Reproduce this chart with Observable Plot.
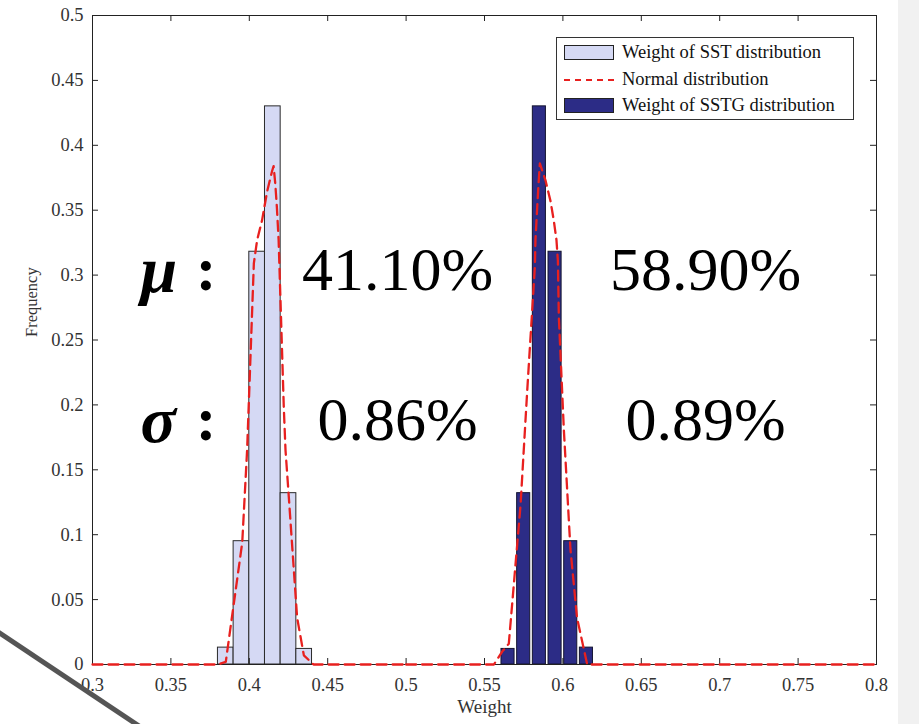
<!DOCTYPE html>
<html><head><meta charset="utf-8">
<script src="https://cdn.jsdelivr.net/npm/d3@7"></script>
<script src="https://cdn.jsdelivr.net/npm/@observablehq/plot@0.6"></script>
<style>
body{margin:0;background:#fff;}
#wrap{position:relative;width:919px;height:724px;overflow:hidden;font-family:"Liberation Serif","Times New Roman",serif;background:#fff;}
#side{position:absolute;left:898px;top:0;width:21px;height:724px;background:#f1f1f1;}
#legend{position:absolute;left:556px;top:37px;width:298px;height:83px;border:1px solid #333;background:#fff;box-sizing:border-box;font-size:18.5px;color:#111;}
.row{position:absolute;left:0;height:26px;width:100%;}
.sw{position:absolute;left:7px;top:5px;width:50px;height:15px;box-sizing:border-box;border:1px solid #222;}
.ln{position:absolute;left:7px;top:12px;width:50px;height:0;border-top:2px dashed #e8201f;}
.lt{position:absolute;left:65px;top:1px;white-space:nowrap;line-height:22px;}
#deco{position:absolute;left:0;top:0;pointer-events:none;}
</style>
</head><body>
<div id="wrap"><div id="side"></div><div id="chart"></div>
<div id="legend"></div>
<svg id="deco" width="919" height="724"><line x1="-2" y1="632" x2="142" y2="728" stroke="#555" stroke-width="5"/></svg>
</div>
<script>
// ---- data ----
const sstBinStart = [0.38, 0.39, 0.40, 0.41, 0.42, 0.43];
const sstFreq     = [0.013, 0.095, 0.318, 0.430, 0.132, 0.012];
const sstgBinStart = [0.56, 0.57, 0.58, 0.59, 0.60, 0.61];
const sstgFreq     = [0.012, 0.132, 0.430, 0.318, 0.095, 0.013];
const binWidth = 0.01;

const sstNormX = [0.30, 0.38, 0.385, 0.3955, 0.3986, 0.4029, 0.405, 0.4081, 0.4113, 0.4145, 0.4155, 0.4166, 0.4176, 0.4187, 0.422, 0.4231, 0.4252, 0.4305, 0.4348, 0.441, 0.50];
const sstNormY = [0, 0, 0.002, 0.094, 0.165, 0.309, 0.327, 0.342, 0.364, 0.380, 0.384, 0.370, 0.352, 0.327, 0.198, 0.165, 0.129, 0.036, 0.007, 0, 0];
const sstgNormX = [0.50, 0.556, 0.5613, 0.5655, 0.573, 0.5772, 0.5821, 0.5825, 0.5836, 0.5846, 0.5853, 0.5889, 0.5921, 0.5942, 0.5959, 0.5968, 0.5974, 0.6006, 0.6048, 0.609, 0.6155, 0.80];
const sstgNormY = [0, 0, 0.010, 0.016, 0.123, 0.210, 0.306, 0.327, 0.352, 0.373, 0.386, 0.373, 0.357, 0.342, 0.327, 0.311, 0.268, 0.181, 0.089, 0.036, 0, 0];

const xTicks = [0.3, 0.35, 0.4, 0.45, 0.5, 0.55, 0.6, 0.65, 0.7, 0.75, 0.8];
const xTickLabels = ["0.3","0.35","0.4","0.45","0.5","0.55","0.6","0.65","0.7","0.75","0.8"];
const yTicks = [0, 0.05, 0.1, 0.15, 0.2, 0.25, 0.3, 0.35, 0.4, 0.45, 0.5];
const yTickLabels = ["0","0.05","0.1","0.15","0.2","0.25","0.3","0.35","0.4","0.45","0.5"];

const statSymbols = ["\u03BC", "\u03C3"];
const meanLabels = ["41.10%", "58.90%"];
const sdLabels = ["0.86%", "0.89%"];
const legendLabels = ["Weight of SST distribution", "Normal distribution", "Weight of SSTG distribution"];
const xLabel = "Weight", yLabel = "Frequency";

// annotation anchors (data coordinates)
const statX = 0.3306, colonX = 0.3725, colX = [0.4945, 0.691], rowY = [0.3035, 0.188];

// ---- build ----
const sstBins = sstBinStart.map((s, i) => ({x1: s, x2: s + binWidth, f: sstFreq[i]}));
const sstgBins = sstgBinStart.map((s, i) => ({x1: s, x2: s + binWidth, f: sstgFreq[i]}));
const sstCurve = sstNormX.map((x, i) => ({x, y: sstNormY[i]}));
const sstgCurve = sstgNormX.map((x, i) => ({x, y: sstgNormY[i]}));
const statRows = statSymbols.map((t, i) => ({t, x: statX, y: rowY[i]}));
const colonRows = statSymbols.map((t, i) => ({t: ":", x: colonX, y: rowY[i]}));
const valRows = [
  {t: meanLabels[0], x: colX[0], y: rowY[0]}, {t: meanLabels[1], x: colX[1], y: rowY[0]},
  {t: sdLabels[0], x: colX[0], y: rowY[1]}, {t: sdLabels[1], x: colX[1], y: rowY[1]}
];

const W = 919, H = 724, ML = 92, MR = 43, MT = 15, MB = 60;
const innerW = W - ML - MR, innerH = H - MT - MB, tl = 6;
const fmtX = d => xTickLabels[xTicks.indexOf(d)];
const fmtY = d => yTickLabels[yTicks.indexOf(d)];
const red = "#e8201f";

const chart = Plot.plot({
  width: W, height: H,
  marginLeft: ML, marginRight: MR, marginTop: MT, marginBottom: MB,
  style: {fontFamily: "'Liberation Serif','Times New Roman',serif", fontSize: "18.5px", color: "#333", background: "transparent"},
  x: {domain: [0.3, 0.8]},
  y: {domain: [0, 0.5]},
  marks: [
    Plot.rect(sstBins, {x1: "x1", x2: "x2", y1: 0, y2: "f", fill: "#d5d9f4", stroke: "#2a2a2a", strokeWidth: 1}),
    Plot.rect(sstgBins, {x1: "x1", x2: "x2", y1: 0, y2: "f", fill: "#2c2c86", stroke: "#141430", strokeWidth: 1, insetLeft: 1.3, insetRight: 1.3}),
    Plot.frame({stroke: "#222", strokeWidth: 1}),
    Plot.tickX(xTicks, {x: d => d, insetTop: innerH - tl, stroke: "#222"}),
    Plot.tickX(xTicks, {x: d => d, insetBottom: innerH - tl, stroke: "#222"}),
    Plot.tickY(yTicks, {y: d => d, insetRight: innerW - tl, stroke: "#222"}),
    Plot.tickY(yTicks, {y: d => d, insetLeft: innerW - tl, stroke: "#222"}),
    Plot.line(sstCurve, {x: "x", y: "y", stroke: red, strokeWidth: 2.3, strokeDasharray: "10,6"}),
    Plot.line(sstgCurve, {x: "x", y: "y", stroke: red, strokeWidth: 2.3, strokeDasharray: "10,6"}),
    Plot.axisX({ticks: xTicks, tickFormat: fmtX, tickSize: 0, tickPadding: 13, label: null}),
    Plot.axisY({ticks: yTicks, tickFormat: fmtY, tickSize: 0, tickPadding: 9, label: null}),
    Plot.text([xLabel], {frameAnchor: "bottom", dy: 48, text: d => d, fontSize: 19, fill: "#333"}),
    Plot.text([yLabel], {frameAnchor: "left", dx: -61, dy: -3, rotate: -90, text: d => d, fontSize: 16.5, fill: "#333"}),
    Plot.text(statRows, {x: "x", y: "y", text: "t", textAnchor: "start", fontSize: 66, fontWeight: "bold", fontStyle: "italic", fill: "#000"}),
    Plot.text(colonRows, {x: "x", y: "y", text: "t", textAnchor: "middle", fontSize: 62, fontWeight: "bold", fill: "#000"}),
    Plot.text(valRows, {x: "x", y: "y", text: "t", textAnchor: "middle", fontSize: 62, fill: "#000"})
  ]
});
document.getElementById("chart").appendChild(chart);

// legend
const lg = document.getElementById("legend");
const kinds = ["sw1", "ln", "sw2"];
legendLabels.forEach((lab, i) => {
  const r = document.createElement("div");
  r.className = "row"; r.style.top = (2 + i * 26.5) + "px";
  const s = document.createElement("div");
  if (kinds[i] === "ln") s.className = "ln";
  else { s.className = "sw"; s.style.background = kinds[i] === "sw1" ? "#d5d9f4" : "#2c2c86"; }
  const t = document.createElement("div"); t.className = "lt"; t.textContent = lab;
  r.appendChild(s); r.appendChild(t); lg.appendChild(r);
});
</script>
</body></html>
